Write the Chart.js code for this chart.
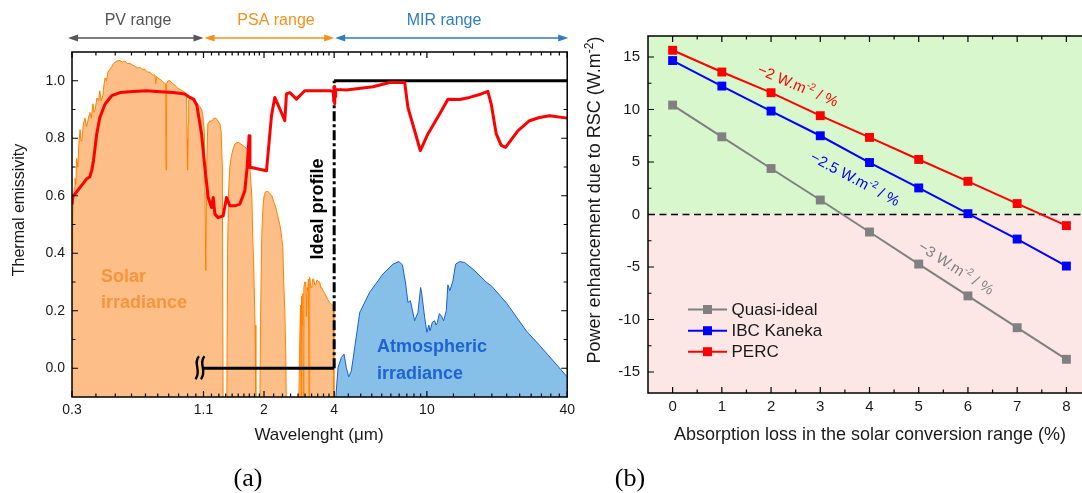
<!DOCTYPE html>
<html>
<head>
<meta charset="utf-8">
<title>Thermal emissivity and RSC power enhancement</title>
<script src="https://cdn.jsdelivr.net/npm/chart.js"></script>
<style>
  body { margin:0; width:1082px; height:493px; overflow:hidden; background:#fff; position:relative; }
  .panel { position:absolute; top:0; }
  .caption { position:absolute; top:463px; line-height:30px; font-family:'Liberation Serif','Times New Roman',serif; font-size:26px; color:#000; transform:translateX(-50%); }
</style>
</head>
<body>
<div class="panel" style="left:0"><canvas id="chartA" width="580" height="493"></canvas></div>
<div class="panel" style="left:560px"><canvas id="chartB" width="560" height="493"></canvas></div>
<div class="caption" style="left:248px">(a)</div>
<div class="caption" style="left:630px">(b)</div>
<script>
// ---------- panel (a) data ----------
const xTicksA = [0.3, 1.1, 2, 4, 10, 40];
const yTicksA = [0, 0.2, 0.4, 0.6, 0.8, 1.0];
const rangeNames = ['PV range', 'PSA range', 'MIR range'];
const rangeLimits = [[0.3, 1.1], [1.1, 4], [4, 40]];

// solar spectrum (normalised)
const solarWl = [
  0.300, 0.302, 0.304, 0.307, 0.309, 0.312, 0.314, 0.318, 0.321, 0.325, 0.328, 0.331, 0.336, 0.341, 0.346,
  0.351, 0.355, 0.358, 0.363, 0.369, 0.373, 0.377, 0.384, 0.390, 0.395, 0.400, 0.407, 0.412, 0.416, 0.422,
  0.428, 0.436, 0.445, 0.452, 0.459, 0.470, 0.482, 0.494, 0.506, 0.518, 0.532, 0.545, 0.559, 0.573, 0.587,
  0.600, 0.617, 0.632, 0.648, 0.665, 0.681, 0.687, 0.692, 0.700, 0.715, 0.730, 0.751, 0.757, 0.760, 0.764,
  0.775, 0.789, 0.810, 0.829, 0.850, 0.871, 0.895, 0.915, 0.930, 0.935, 0.940, 0.945, 0.950, 0.961, 0.985,
  1.010, 1.035, 1.061, 1.080, 1.093, 1.110, 1.125, 1.135, 1.148, 1.170, 1.195, 1.220, 1.243, 1.270, 1.293,
  1.310, 1.325, 1.335, 1.385, 1.395, 1.410, 1.427, 1.450, 1.470, 1.499, 1.530, 1.560, 1.590, 1.620, 1.654,
  1.680, 1.704, 1.725, 1.745, 1.773, 1.790, 1.808, 1.830, 1.845, 1.920, 1.935, 1.955, 1.976, 2.000, 2.016,
  2.040, 2.076, 2.110, 2.160, 2.200, 2.246, 2.290, 2.338, 2.370, 2.408, 2.430, 2.456, 2.480, 2.492, 2.820,
  2.847, 2.870, 2.885, 2.895, 2.915, 2.935, 2.950, 2.965, 2.990, 3.021, 3.040, 3.060, 3.081, 3.100, 3.120,
  3.142, 3.175, 3.205, 3.235, 3.269, 3.300, 3.334, 3.365, 3.401, 3.435, 3.468, 3.500, 3.538, 3.590, 3.644,
  3.700, 3.754, 3.810, 3.868, 3.930, 3.975, 3.990
];
const solarIrr = [
  0.40, 0.52, 0.58, 0.63, 0.66, 0.64, 0.73, 0.70, 0.78, 0.83, 0.79, 0.80, 0.85, 0.87, 0.84,
  0.86, 0.88, 0.89, 0.87, 0.92, 0.89, 0.90, 0.94, 0.93, 0.965, 0.93, 0.95, 0.99, 1.01, 1.00,
  1.03, 1.04, 1.05, 1.06, 1.064, 1.07, 1.07, 1.065, 1.068, 1.06, 1.06, 1.055, 1.05, 1.045, 1.046,
  1.04, 1.04, 1.03, 1.03, 1.02, 1.02, 0.99, 1.015, 1.01, 1.005, 1.00, 0.99, 0.99, 0.69, 0.99,
  1.00, 1.00, 0.99, 0.985, 0.975, 0.97, 0.965, 0.96, 0.95, 0.80, 0.69, 0.85, 0.93, 0.94, 0.935,
  0.93, 0.92, 0.91, 0.90, 0.88, 0.82, 0.34, 0.70, 0.85, 0.86, 0.86, 0.87, 0.87, 0.86, 0.85,
  0.82, 0.70, -0.12, -0.12, 0.40, 0.62, 0.70, 0.74, 0.76, 0.78, 0.785, 0.785, 0.78, 0.775, 0.77,
  0.765, 0.76, 0.72, 0.68, 0.60, 0.45, 0.35, 0.15, -0.12, -0.12, 0.20, 0.45, 0.55, 0.60, 0.61,
  0.615, 0.615, 0.61, 0.60, 0.58, 0.56, 0.53, 0.50, 0.47, 0.42, 0.30, 0.20, 0.05, -0.12, -0.12,
  0.10, 0.22, -0.12, 0.25, 0.15, 0.26, -0.12, 0.28, 0.30, 0.30, 0.18, 0.28, 0.27, 0.31, -0.12,
  0.316, 0.28, 0.28, 0.31, 0.31, 0.29, 0.29, 0.305, 0.305, 0.30, 0.30, 0.28, 0.28, 0.27, 0.26,
  0.25, 0.24, 0.23, 0.225, 0.22, 0.217, -0.12
];

// thermal emissivity of the cover
const emisWl = [
  0.300, 0.303, 0.309, 0.325, 0.346, 0.358, 0.365, 0.371, 0.383, 0.395, 0.416, 0.444, 0.482, 0.549, 0.627,
  0.715, 0.815, 0.915, 0.961, 1.000, 1.030, 1.079, 1.115, 1.152, 1.191, 1.211, 1.231, 1.271, 1.336, 1.381,
  1.427, 1.499, 1.575, 1.654, 1.693, 1.726, 1.740, 1.763, 2.050, 2.153, 2.225, 2.338, 2.456, 2.497, 2.580,
  2.756, 2.991, 3.828, 3.960, 3.990, 4.005, 4.015, 4.030, 4.045, 4.060, 4.510, 5.870, 6.920, 8.030, 8.290,
  8.860, 9.370, 10.10, 11.34, 12.31, 13.81, 15.24, 17.11, 18.26, 18.88, 19.84, 20.84, 21.75, 24.56, 27.56,
  30.42, 33.57, 40.00
];
const emisVal = [
  0.57, 0.60, 0.606, 0.629, 0.658, 0.666, 0.69, 0.722, 0.815, 0.872, 0.919, 0.948, 0.959, 0.963, 0.965,
  0.962, 0.959, 0.954, 0.942, 0.935, 0.915, 0.815, 0.698, 0.594, 0.559, 0.594, 0.536, 0.524, 0.530, 0.594,
  0.565, 0.565, 0.571, 0.617, 0.698, 0.809, 0.698, 0.698, 0.687, 0.878, 0.942, 0.902, 0.861, 0.954, 0.959,
  0.936, 0.965, 0.965, 0.963, 0.93, 0.98, 0.92, 0.975, 0.945, 0.97, 0.968, 0.979, 0.994, 0.994, 0.907,
  0.826, 0.757, 0.815, 0.884, 0.936, 0.935, 0.942, 0.954, 0.963, 0.919, 0.815, 0.775, 0.768, 0.826, 0.861,
  0.872, 0.878, 0.870
];

// atmospheric irradiance (normalised)
const atmWl = [
  4.05, 4.156, 4.30, 4.41, 4.51, 4.62, 4.74, 4.90, 5.15, 5.68, 6.48, 7.15, 7.58, 7.85, 8.11,
  8.29, 8.49, 8.86, 9.15, 9.40, 9.50, 9.78, 10.0, 10.2, 10.3, 10.4, 10.55, 10.79, 10.95, 11.1,
  11.3, 11.53, 11.8, 12.11, 12.3, 12.55, 12.93, 13.28, 13.81, 14.5, 15.75, 17.97, 19.0, 22.0, 26.7,
  30.42, 40.0
];
const atmVal = [
  -0.12, 0.003, 0.038, 0.049, 0.003, -0.03, -0.009, 0.072, 0.194, 0.264, 0.328, 0.362, 0.371, 0.360, 0.293,
  0.229, 0.235, 0.165, 0.194, 0.281, 0.26, 0.177, 0.125, 0.15, 0.13, 0.14, 0.16, 0.165, 0.15, 0.16,
  0.19, 0.183, 0.165, 0.20, 0.29, 0.27, 0.304, 0.362, 0.371, 0.368, 0.345, 0.30, 0.285, 0.226, 0.13,
  0.08, -0.03
];

// ideal emissivity profile
const idealWl = [1.1, 4, 4, 40];
const idealVal = [0, 0, 1, 1];

// ---------- panel (b) data ----------
const lossPct = [0, 1, 2, 3, 4, 5, 6, 7, 8];
const quasiIdeal = [10.42, 7.40, 4.38, 1.38, -1.67, -4.72, -7.75, -10.78, -13.79];
const ibcKaneka = [14.66, 12.23, 9.85, 7.50, 4.95, 2.53, 0.08, -2.34, -4.91];
const perc = [15.64, 13.57, 11.60, 9.41, 7.34, 5.24, 3.16, 1.04, -1.06];
const xTicksB = [0, 1, 2, 3, 4, 5, 6, 7, 8];
const yTicksB = [-15, -10, -5, 0, 5, 10, 15];
const slopeTexts = ['−2', '−2.5', '−3'];

// ---------- helpers ----------
const fontFam = "'Liberation Sans', Arial, Helvetica, sans-serif";
Chart.defaults.font.family = fontFam;
Chart.defaults.color = '#1a1a1a';

const pts = (xs, ys) => xs.map((v, i) => ({ x: v, y: ys[i] }));

function minorBetween(majors, n) {
  const out = [];
  for (let i = 0; i < majors.length - 1; i++) {
    const a = majors[i], b = majors[i + 1];
    for (let k = 1; k <= n; k++) out.push(a + (b - a) * k / (n + 1));
  }
  return out;
}

// box round the plot + inward ticks on all four sides
function drawFrame(chart, xMaj, xMin, yMaj, yMin) {
  const { ctx, chartArea: { left, right, top, bottom }, scales: { x, y } } = chart;
  ctx.save();
  ctx.strokeStyle = '#000';
  ctx.lineWidth = 1.5;
  ctx.strokeRect(left, top, right - left, bottom - top);
  ctx.lineWidth = 1.2;
  ctx.beginPath();
  const tx = (v, len) => {
    const p = x.getPixelForValue(v);
    ctx.moveTo(p, bottom); ctx.lineTo(p, bottom - len);
    ctx.moveTo(p, top); ctx.lineTo(p, top + len);
  };
  const ty = (v, len) => {
    const p = y.getPixelForValue(v);
    ctx.moveTo(left, p); ctx.lineTo(left + len, p);
    ctx.moveTo(right, p); ctx.lineTo(right - len, p);
  };
  xMaj.forEach(v => tx(v, 6)); xMin.forEach(v => tx(v, 3.5));
  yMaj.forEach(v => ty(v, 6)); yMin.forEach(v => ty(v, 3.5));
  ctx.stroke();
  ctx.restore();
}

function text(ctx, str, x, y, o = {}) {
  ctx.save();
  ctx.translate(x, y);
  ctx.rotate(o.angle || 0);
  ctx.font = (o.weight || 'normal') + ' ' + (o.size || 16) + 'px ' + (o.family || fontFam);
  ctx.fillStyle = o.color || '#1a1a1a';
  ctx.textAlign = o.align || 'center';
  ctx.textBaseline = 'middle';
  ctx.fillText(str, 0, 0);
  ctx.restore();
}

// centred text with superscript parts
function richText(ctx, parts, x, y, size, color, angle) {
  ctx.save();
  ctx.translate(x, y);
  ctx.rotate(angle || 0);
  ctx.fillStyle = color;
  ctx.textBaseline = 'middle';
  ctx.textAlign = 'left';
  const supSize = Math.round(size * 0.65);
  let total = 0;
  const widths = parts.map(p => {
    ctx.font = (p.sup ? supSize : size) + 'px ' + fontFam;
    const w = ctx.measureText(p.t).width;
    total += w;
    return w;
  });
  let cx = -total / 2;
  parts.forEach((p, i) => {
    ctx.font = (p.sup ? supSize : size) + 'px ' + fontFam;
    ctx.fillText(p.t, cx, p.sup ? -size * 0.32 : 0);
    cx += widths[i];
  });
  ctx.restore();
}

function arrow(ctx, x1, x2, y, color) {
  ctx.save();
  ctx.strokeStyle = color; ctx.fillStyle = color; ctx.lineWidth = 1.5;
  ctx.beginPath(); ctx.moveTo(x1 + 6, y); ctx.lineTo(x2 - 6, y); ctx.stroke();
  ctx.beginPath(); ctx.moveTo(x1, y); ctx.lineTo(x1 + 10, y - 3.5); ctx.lineTo(x1 + 10, y + 3.5); ctx.closePath(); ctx.fill();
  ctx.beginPath(); ctx.moveTo(x2, y); ctx.lineTo(x2 - 10, y - 3.5); ctx.lineTo(x2 - 10, y + 3.5); ctx.closePath(); ctx.fill();
  ctx.restore();
}

// ---------- panel (a) ----------
const panelA = {
  id: 'panelA',
  afterDatasetsDraw(chart) {
    const { ctx, scales: { x, y } } = chart;
    drawFrame(chart, xTicksA, minorBetween(xTicksA, 9), yTicksA, minorBetween(yTicksA, 1));

    // axis break mark before the ideal profile
    const bx = x.getPixelForValue(1.1) - 7, by = y.getPixelForValue(0);
    ctx.save();
    ctx.strokeStyle = '#000'; ctx.lineWidth = 2.4;
    [0, 5.5].forEach(o => {
      ctx.beginPath();
      ctx.moveTo(bx + o + 2.5, by - 12);
      ctx.bezierCurveTo(bx + o - 4, by - 5, bx + o + 5.5, by + 3, bx + o - 1, by + 11);
      ctx.stroke();
    });
    ctx.restore();

    text(ctx, 'Solar', 101, 277, { size: 18, weight: 'bold', color: '#f7953c', align: 'left' });
    text(ctx, 'irradiance', 101, 303, { size: 18, weight: 'bold', color: '#f7953c', align: 'left' });
    text(ctx, 'Atmospheric', 377, 347, { size: 18, weight: 'bold', color: '#1f62d2', align: 'left' });
    text(ctx, 'irradiance', 377, 374, { size: 18, weight: 'bold', color: '#1f62d2', align: 'left' });
    text(ctx, 'Ideal profile', 318, 209, { size: 18, weight: 'bold', color: '#000', angle: -Math.PI / 2 });
  },
  afterDraw(chart) {
    const { ctx, scales: { x } } = chart;
    const colors = ['#555555', '#f7901a', '#2e7dc2'];
    const labelX = [138, 276, 444];
    rangeLimits.forEach((r, i) => {
      const x1 = x.getPixelForValue(r[0]) + (i === 0 ? -4 : 1);
      const x2 = x.getPixelForValue(r[1]) + (i === 2 ? 1 : 0);
      arrow(ctx, x1, x2, 38, colors[i]);
      text(ctx, rangeNames[i], labelX[i], 21, { size: 16, color: colors[i] });
    });
    text(ctx, 'Thermal emissivity', 20, 210, { size: 16, angle: -Math.PI / 2 });
    text(ctx, 'Wavelenght (μm)', 319, 435, { size: 17 });
  }
};

new Chart(document.getElementById('chartA'), {
  type: 'line',
  data: {
    datasets: [
      { label: 'Emissivity', data: pts(emisWl, emisVal), borderColor: '#ff0000', borderWidth: 3,
        borderJoinStyle: 'round', pointRadius: 0, fill: false },
      { label: 'Ideal profile', data: pts(idealWl, idealVal), borderColor: '#000', borderWidth: 3,
        pointRadius: 0, fill: false,
        segment: { borderDash: c => c.p0DataIndex === 1 ? [10, 3, 3, 3] : undefined } },
      { label: 'Solar irradiance', data: pts(solarWl, solarIrr), borderColor: '#ff8000', borderWidth: 1,
        backgroundColor: '#fdbf87', pointRadius: 0, fill: 'start' },
      { label: 'Atmospheric irradiance', data: pts(atmWl, atmVal), borderColor: '#1a5fd0', borderWidth: 1,
        backgroundColor: '#86c0e8', pointRadius: 0, fill: 'start' }
    ]
  },
  options: {
    responsive: false, animation: false, devicePixelRatio: 1,
    layout: { padding: { left: 0, top: 52, right: 12, bottom: 0 } },
    plugins: { legend: { display: false }, tooltip: { enabled: false } },
    scales: {
      x: {
        type: 'logarithmic', min: 0.3, max: 40,
        afterBuildTicks: s => { s.ticks = xTicksA.map(v => ({ value: v })); },
        afterFit: s => { s.height = 96; },
        grid: { display: false, drawTicks: false }, border: { display: false },
        ticks: { autoSkip: false, maxRotation: 0, padding: 5, font: { size: 14 }, callback: v => String(v) }
      },
      y: {
        min: -0.1, max: 1.1,
        afterBuildTicks: s => { s.ticks = yTicksA.map(v => ({ value: v })); },
        afterFit: s => { s.width = 72; },
        grid: { display: false, drawTicks: false }, border: { display: false },
        ticks: { padding: 7, font: { size: 14 }, callback: v => v.toFixed(1) }
      }
    }
  },
  plugins: [panelA]
});

// ---------- panel (b) ----------
const panelB = {
  id: 'panelB',
  beforeDatasetsDraw(chart) {
    const { ctx, chartArea: { left, right, top, bottom }, scales: { y } } = chart;
    const y0 = y.getPixelForValue(0);
    ctx.save();
    ctx.fillStyle = '#d9f7cd'; ctx.fillRect(left, top, right - left, y0 - top);
    ctx.fillStyle = '#fde6e6'; ctx.fillRect(left, y0, right - left, bottom - y0);
    ctx.strokeStyle = '#000'; ctx.lineWidth = 1.5; ctx.setLineDash([7, 4.5]);
    ctx.beginPath(); ctx.moveTo(left, y0); ctx.lineTo(right, y0); ctx.stroke();
    ctx.restore();
  },
  afterDatasetsDraw(chart) {
    const { ctx, scales: { x, y } } = chart;
    drawFrame(chart, xTicksB, minorBetween(xTicksB, 1), yTicksB, minorBetween(yTicksB, 1));

    // slope labels along the lines
    const anchors = [[2.54, 12.2, -2, '#ff0000'], [3.70, 3.32, -2.5, '#0000ff'], [5.75, -5.17, -3, '#808080']];
    anchors.forEach((a, i) => {
      const ang = Math.atan2(y.getPixelForValue(a[2]) - y.getPixelForValue(0), x.getPixelForValue(1) - x.getPixelForValue(0));
      richText(ctx, [{ t: slopeTexts[i] + ' W.m' }, { t: '-2', sup: true }, { t: ' / %' }],
        x.getPixelForValue(a[0]), y.getPixelForValue(a[1]), 15, a[3], ang);
    });

    // legend
    const rows = [309.5, 330.7, 351.7];
    chart.data.datasets.forEach((ds, i) => {
      ctx.save();
      ctx.strokeStyle = ds.borderColor; ctx.lineWidth = 2;
      ctx.beginPath(); ctx.moveTo(128, rows[i]); ctx.lineTo(167, rows[i]); ctx.stroke();
      ctx.fillStyle = ds.borderColor;
      ctx.fillRect(147.5 - 4.5, rows[i] - 4.5, 9, 9);
      ctx.restore();
      text(ctx, ds.label, 171.5, rows[i] + 0.5, { size: 17, align: 'left' });
    });
  },
  afterDraw(chart) {
    const { ctx } = chart;
    richText(ctx, [{ t: 'Power enhancement due to RSC (W.m' }, { t: '-2', sup: true }, { t: ')' }],
      35, 200, 18, '#1a1a1a', -Math.PI / 2);
    text(ctx, 'Absorption loss in the solar conversion range (%)', 310, 435, { size: 18 });
  }
};

const series = [['Quasi-ideal', quasiIdeal, '#808080'], ['IBC Kaneka', ibcKaneka, '#0000ff'], ['PERC', perc, '#ff0000']];

new Chart(document.getElementById('chartB'), {
  type: 'line',
  data: {
    datasets: series.map(s => ({
      label: s[0], data: pts(lossPct, s[1]), borderColor: s[2], backgroundColor: s[2],
      borderWidth: 2, pointStyle: 'rect', pointRadius: 6.3, pointBorderWidth: 0,
      pointBackgroundColor: s[2], fill: false
    }))
  },
  options: {
    responsive: false, animation: false, devicePixelRatio: 1,
    layout: { padding: { left: 0, top: 36, right: 29, bottom: 0 } },
    plugins: { legend: { display: false }, tooltip: { enabled: false } },
    scales: {
      x: {
        type: 'linear', min: -0.5, max: 8.5,
        afterBuildTicks: s => { s.ticks = xTicksB.map(v => ({ value: v })); },
        afterFit: s => { s.height = 100; },
        grid: { display: false, drawTicks: false }, border: { display: false },
        ticks: { autoSkip: false, maxRotation: 0, padding: 5, font: { size: 15 } }
      },
      y: {
        min: -17, max: 17,
        afterBuildTicks: s => { s.ticks = yTicksB.map(v => ({ value: v })); },
        afterFit: s => { s.width = 88; },
        grid: { display: false, drawTicks: false }, border: { display: false },
        ticks: { padding: 8, font: { size: 15 }, callback: v => String(v) }
      }
    }
  },
  plugins: [panelB]
});
</script>
</body>
</html>
